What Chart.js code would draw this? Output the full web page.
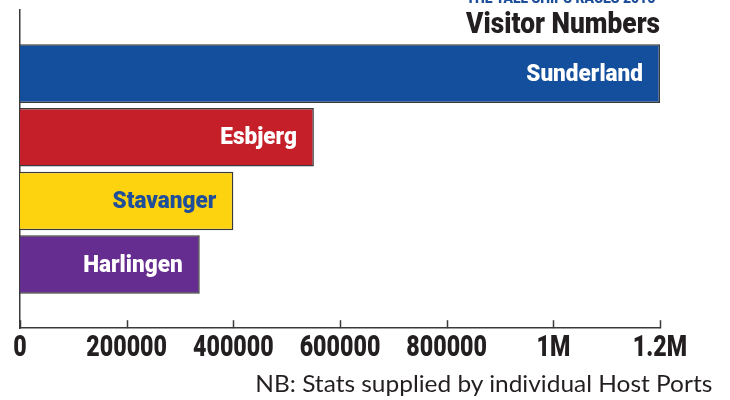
<!DOCTYPE html>
<html>
<head>
<meta charset="utf-8">
<script src="https://cdn.jsdelivr.net/npm/chart.js@4/dist/chart.umd.min.js"></script>
<style>
  html, body { margin: 0; padding: 0; background: #ffffff; }
  #wrap { position: relative; width: 730px; height: 400px; overflow: hidden; background: #fff; }
  #c { position: absolute; left: 0; top: 0; }
  .narrow { font-family: Roboto, sans-serif; font-weight: 900; transform-origin: 100% 50%; }
  #sup { position: absolute; right: 75px; top: -9px; font-size: 14px; line-height: 14px; color: #1f4e9b; white-space: nowrap; }
  #title { position: absolute; right: 70px; top: 8px; font-size: 30px; line-height: 30px; color: #231f20; white-space: nowrap; }
  #note { position: absolute; right: 18px; top: 371px; font-family: Lato, 'Open Sans', sans-serif; font-size: 24px; line-height: 24px; color: #231f20; white-space: nowrap; transform-origin: 100% 50%; }
</style>
</head>
<body>
<div id="wrap">
  <canvas id="c" width="730" height="400"></canvas>
  <div id="sup" class="narrow">THE TALL SHIPS RACES 2016</div>
  <div id="title" class="narrow">Visitor Numbers</div>
  <div id="note">NB: Stats supplied by individual Host Ports</div>
</div>
<script>
// ---- data ----
const categories = ['Sunderland', 'Esbjerg', 'Stavanger', 'Harlingen'];
const visitors = [1200000, 551000, 400000, 337000];
const barColors = ['#134f9c', '#c5202a', '#fdd20f', '#652d90'];
const labelColors = ['#ffffff', '#ffffff', '#1f4e9b', '#ffffff'];
const xTicks = [0, 200000, 400000, 600000, 800000, 1000000, 1200000];

const FONT = "Roboto, sans-serif";
const TICK_SQUEEZE = 0.8;   // the reference uses a condensed face
const LABEL_SQUEEZE = 0.94;

// squeeze HTML headings to the reference widths
function fitWidth(id, w) {
  const el = document.getElementById(id);
  const cur = el.getBoundingClientRect().width;
  if (cur > 0) el.style.transform = 'scaleX(' + (w / cur) + ')';
}
fitWidth('sup', 189);
fitWidth('title', 194);
fitWidth('note', 457);

// one empty slot above and below the bars (the axis runs past them)
const labels = [''].concat(categories, ['']);
const values = [null].concat(visitors, [null]);
const colors = ['#fff'].concat(barColors, ['#fff']);

const barLabels = {
  id: 'barLabels',
  afterDatasetsDraw(chart) {
    const ctx = chart.ctx;
    const meta = chart.getDatasetMeta(0);
    meta.data.forEach((bar, i) => {
      const ci = i - 1;
      if (ci < 0 || ci >= categories.length) return;
      ctx.save();
      ctx.font = '900 24px ' + FONT;
      ctx.textAlign = 'right';
      ctx.textBaseline = 'middle';
      ctx.fillStyle = labelColors[ci];
      ctx.translate(bar.x - 17, bar.y + 1);
      ctx.scale(LABEL_SQUEEZE, 1);
      ctx.fillText(categories[ci], 0, 0);
      ctx.restore();
    });
  }
};

const innerTicks = {
  id: 'innerTicks',
  afterDraw(chart) {
    const x = chart.scales.x;
    const ctx = chart.ctx;
    const bottom = chart.chartArea.bottom;
    ctx.save();
    ctx.strokeStyle = '#3a3a3a';
    ctx.lineWidth = 1.5;
    xTicks.forEach(v => {
      const px = Math.round(x.getPixelForValue(v)) + 0.5;
      ctx.beginPath();
      ctx.moveTo(px, bottom);
      ctx.lineTo(px, bottom - 8);
      ctx.stroke();
    });
    ctx.restore();
  }
};

// draw the x tick labels horizontally condensed about their own centre
const condenseTicks = {
  id: 'condenseTicks',
  beforeDraw(chart) {
    const sc = chart.scales.x;
    if (!sc || sc._condensed) return;
    sc._condensed = true;
    const orig = sc.drawLabels;
    sc.drawLabels = function (area) {
      const ctx = this.ctx;
      const origRotate = ctx.rotate;
      ctx.rotate = function (a) { origRotate.call(this, a); this.scale(TICK_SQUEEZE, 1); };
      try { orig.call(this, area); } finally { delete ctx.rotate; }
    };
  }
};

new Chart(document.getElementById('c'), {
  type: 'bar',
  data: {
    labels: labels,
    datasets: [{
      data: values,
      backgroundColor: colors,
      borderColor: '#3a3a3a',
      borderWidth: 1.5,
      barPercentage: 0.92,
      categoryPercentage: 1.0
    }]
  },
  options: {
    indexAxis: 'y',
    responsive: false,
    animation: false,
    devicePixelRatio: 1,
    layout: { padding: { left: 20, right: 70, top: 10, bottom: 31 } },
    plugins: {
      legend: { display: false },
      tooltip: { enabled: false },
      title: { display: false }
    },
    scales: {
      x: {
        type: 'linear',
        min: 0,
        max: 1200000,
        afterBuildTicks(scale) { scale.ticks = xTicks.map(v => ({ value: v })); },
        grid: { display: false, drawTicks: false },
        border: { display: true, color: '#3a3a3a', width: 1.5 },
        ticks: {
          padding: 3,
          color: '#231f20',
          font: { family: FONT, size: 29, weight: '900' },
          maxRotation: 0,
          minRotation: 0,
          autoSkip: false,
          callback(v) {
            if (v >= 1000000) return (v / 1000000) + 'M';
            return String(v);
          }
        }
      },
      y: {
        type: 'category',
        offset: false,
        grid: { display: false, drawTicks: false },
        border: { display: true, color: '#3a3a3a', width: 1.5 },
        ticks: { display: false }
      }
    }
  },
  plugins: [condenseTicks, barLabels, innerTicks]
});
</script>
</body>
</html>
